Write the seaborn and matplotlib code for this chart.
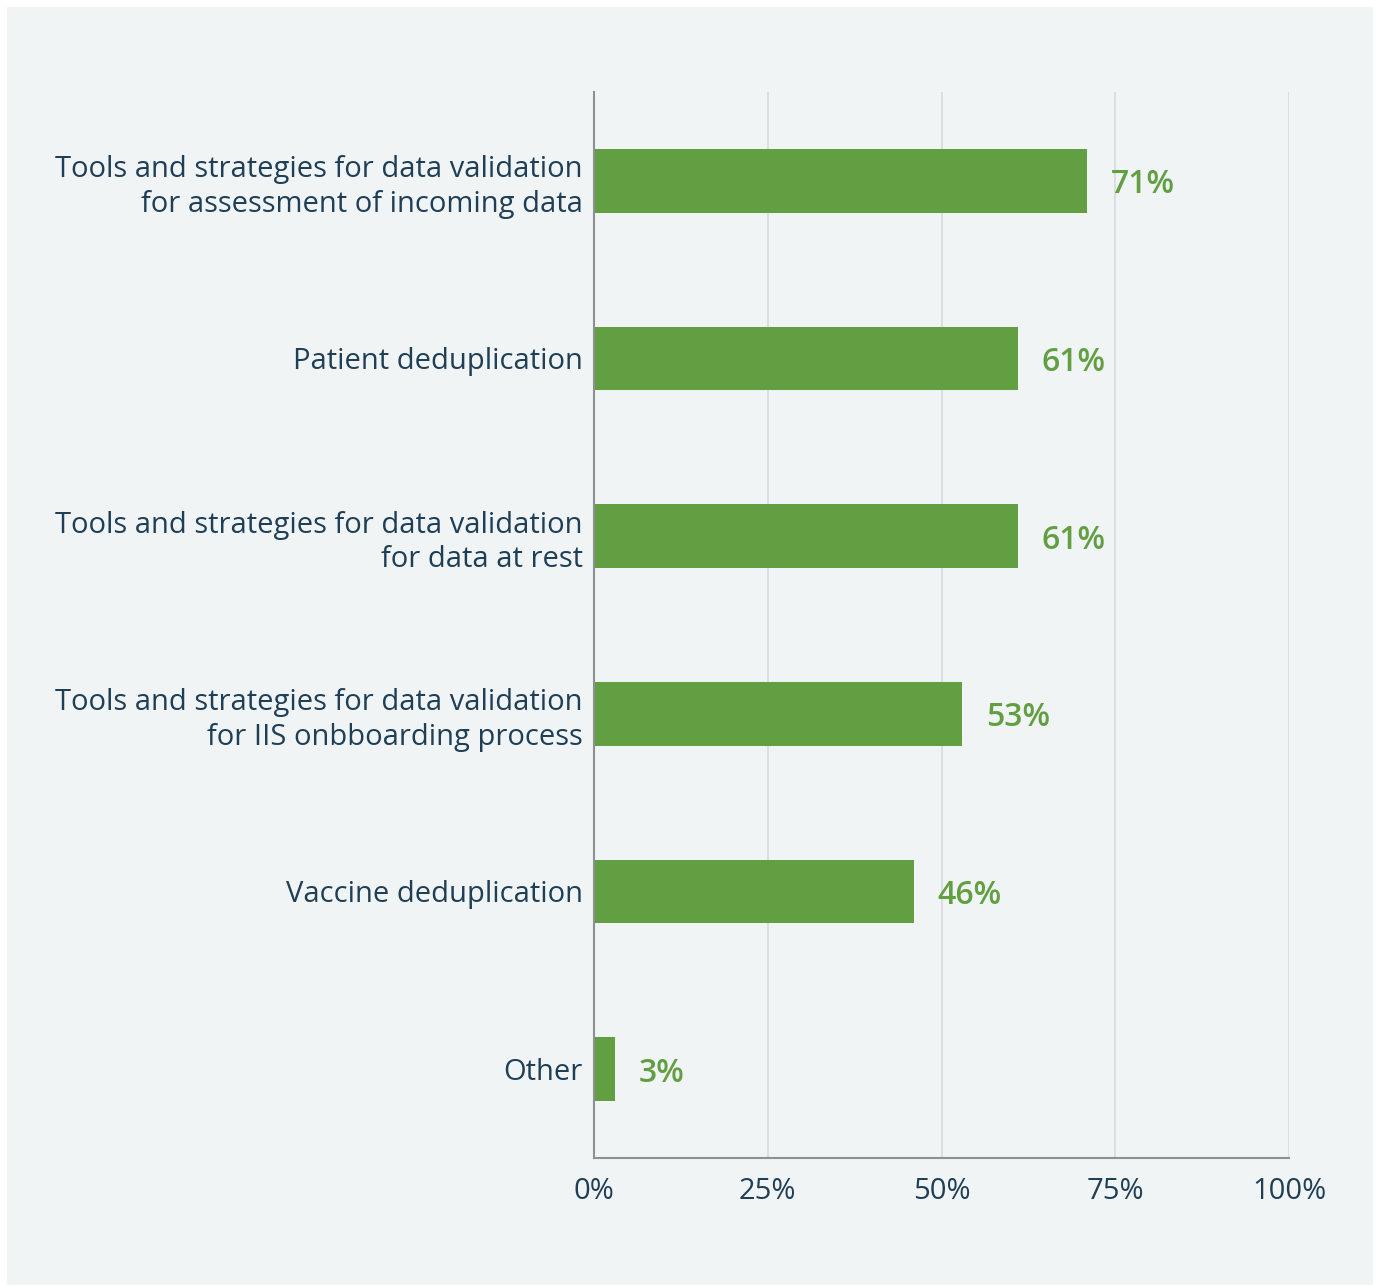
import matplotlib
matplotlib.use("Agg")
import matplotlib.pyplot as plt
import matplotlib.patches as mpatches
import seaborn as sns
import pandas as pd

categories = [
    "Tools and strategies for data validation\nfor assessment of incoming data",
    "Patient deduplication",
    "Tools and strategies for data validation\nfor data at rest",
    "Tools and strategies for data validation\nfor IIS onbboarding process",
    "Vaccine deduplication",
    "Other",
]
values = [71, 61, 61, 53, 46, 3]
x_ticks = [0, 25, 50, 75, 100]
x_tick_labels = ["0%", "25%", "50%", "75%", "100%"]

BG = "#f1f4f5"
GREEN = "#629f43"
NAVY = "#1f3f57"
GRID = "#d9dcde"
SPINE = "#8c9195"

sns.set_theme(style="white")
plt.rcParams["font.family"] = ["Open Sans", "DejaVu Sans"]

df = pd.DataFrame({"category": categories, "value": values})

fig = plt.figure(figsize=(13.76, 12.87), dpi=100, facecolor="white")
fig.patches.append(mpatches.Rectangle(
    (7 / 1376, 2 / 1287), 1366 / 1376, 1278 / 1287,
    transform=fig.transFigure, facecolor=BG, edgecolor="none", zorder=-10))

ax = fig.add_axes([594 / 1376, 1 - 1158 / 1287, 695 / 1376, (1158 - 92) / 1287])
ax.set_facecolor(BG)

sns.barplot(data=df, y="category", x="value", color=GREEN, saturation=1,
            width=0.36, orient="h", ax=ax, zorder=3, linewidth=0)

ax.set_xlim(0, 100)
ax.set_ylim(len(categories) - 0.5, -0.5)
ax.set_xticks(x_ticks)
ax.set_xticklabels(x_tick_labels)
ax.set_xlabel("")
ax.set_ylabel("")

ax.grid(axis="x", color=GRID, linewidth=1.3, zorder=0)
ax.grid(axis="y", visible=False)
for side in ["top", "right"]:
    ax.spines[side].set_visible(False)
for side in ["left", "bottom"]:
    ax.spines[side].set_color(SPINE)
    ax.spines[side].set_linewidth(1.5)
    ax.spines[side].set_zorder(4)

ax.tick_params(axis="x", length=0, pad=14, labelsize=21, labelcolor=NAVY)
ax.tick_params(axis="y", length=0, pad=8, labelsize=21, labelcolor=NAVY)
for lbl in ax.get_yticklabels():
    lbl.set_horizontalalignment("right")
    lbl.set_multialignment("right")
    lbl.set_linespacing(1.25)

for i, v in enumerate(values):
    ax.annotate(f"{v}%", xy=(v, i), xytext=(17, 0), textcoords="offset points",
                va="center_baseline", ha="left", fontsize=23, fontweight="semibold",
                color=GREEN)

fig.savefig("out.png", dpi=100, facecolor="white")
